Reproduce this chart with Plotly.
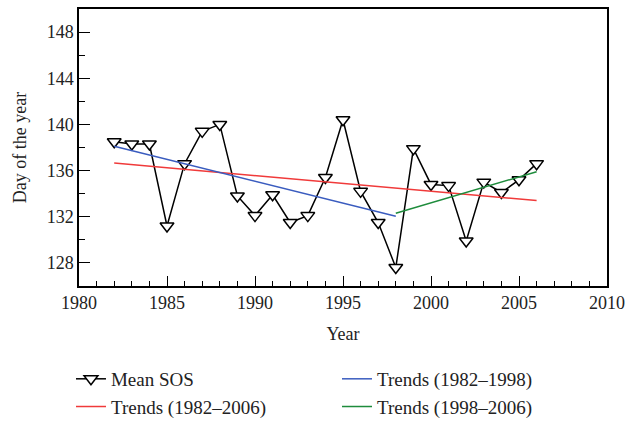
import plotly.graph_objects as go

years = list(range(1982, 2007))
mean_sos = [138.5, 138.3, 138.3, 131.2, 136.6, 139.4, 140.0, 133.8, 132.1, 133.9,
            131.5, 132.1, 135.4, 140.4, 134.2, 131.5, 127.6, 137.9, 134.8, 134.7,
            129.9, 135.0, 134.1, 135.2, 136.6]

trend_all_x = [1982, 2006]
trend_all_y = [136.65, 133.4]
trend_early_x = [1982, 1998]
trend_early_y = [138.1, 132.05]
trend_late_x = [1998, 2006]
trend_late_y = [132.3, 135.9]

FONT = "Liberation Serif"

fig = go.Figure()
fig.add_trace(go.Scatter(
    x=years, y=mean_sos, mode="lines+markers", name="Mean SOS",
    line=dict(color="black", width=1.5),
    marker=dict(symbol="triangle-down", size=12, color="white",
                line=dict(color="black", width=1.5)),
    legend="legend"))
fig.add_trace(go.Scatter(
    x=trend_all_x, y=trend_all_y, mode="lines", name="Trends (1982–2006)",
    line=dict(color="#f03a3a", width=1.5), legend="legend"))
fig.add_trace(go.Scatter(
    x=trend_early_x, y=trend_early_y, mode="lines", name="Trends (1982–1998)",
    line=dict(color="#3a5cbf", width=1.5), legend="legend2"))
fig.add_trace(go.Scatter(
    x=trend_late_x, y=trend_late_y, mode="lines", name="Trends (1998–2006)",
    line=dict(color="#1e8c3c", width=1.5), legend="legend2"))

axis_common = dict(
    showgrid=False, zeroline=False, showline=True, linecolor="black",
    linewidth=1.5, mirror=True, ticks="inside", tickcolor="black",
    tickwidth=1.2, tickfont=dict(family=FONT, size=18, color="#222"),
)

fig.update_xaxes(
    range=[1980, 2010], tick0=1980, dtick=5, ticklen=10,
    minor=dict(dtick=1, ticklen=5, ticks="inside", tickcolor="black", tickwidth=1.2),
    title=dict(text="Year", font=dict(family=FONT, size=18, color="#222")),
    **axis_common)
fig.update_yaxes(
    range=[126, 150], tick0=128, dtick=4, ticklen=11,
    minor=dict(dtick=2, tick0=126, ticklen=6, ticks="inside", tickcolor="black", tickwidth=1.2),
    title=dict(text="Day of the year", font=dict(family=FONT, size=18, color="#222")),
    **axis_common)

legend_common = dict(
    orientation="v", yanchor="top", xanchor="left",
    font=dict(family=FONT, size=19, color="#222"),
    bgcolor="rgba(0,0,0,0)", tracegroupgap=0,
)

fig.update_layout(
    width=627, height=421,
    margin=dict(l=79, r=20, t=9, b=135, autoexpand=False),
    plot_bgcolor="white", paper_bgcolor="white",
    showlegend=True,
    legend=dict(x=-0.0152, y=-0.267, **legend_common),
    legend2=dict(x=0.4886, y=-0.267, **legend_common),
)

fig.write_html("out.html")
